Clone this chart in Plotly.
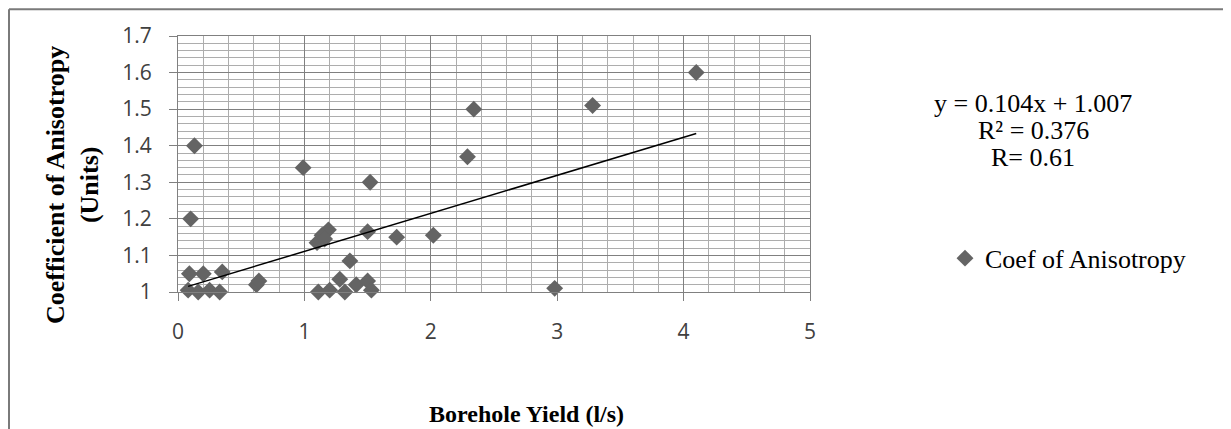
import plotly.graph_objects as go

# Data
borehole_yield = [0.13, 0.10, 4.10, 3.28, 2.34, 2.29, 0.99, 1.52, 1.19, 1.14, 1.10, 1.16,
                  1.50, 1.73, 2.02, 1.36, 2.98, 0.62, 0.64, 0.09, 0.20, 0.35, 0.08, 0.16,
                  0.25, 0.33, 1.11, 1.20, 1.28, 1.32, 1.41, 1.50, 1.53]
coef_anisotropy = [1.40, 1.20, 1.60, 1.51, 1.50, 1.37, 1.34, 1.30, 1.17, 1.155, 1.135, 1.145,
                   1.165, 1.15, 1.155, 1.085, 1.01, 1.02, 1.03, 1.05, 1.05, 1.055, 1.005, 1.0,
                   1.005, 1.0, 1.0, 1.005, 1.035, 1.0, 1.02, 1.03, 1.005]
slope = 0.104
intercept = 1.007
eq_lines = ["y = 0.104x + 1.007", "R\u00b2 = 0.376", "R= 0.61"]
series_name = "Coef of Anisotropy"
x_title = "Borehole Yield (l/s)"
y_title_lines = ["Coefficient of Anisotropy", "(Units)"]

# page body has an 8px default margin: work in reference pixels, shifted by OFF
OFF = 8
W, H = 1231 - OFF, 429 - OFF
L, R, T, B = 178 - OFF, 810 - OFF, 36.2 - OFF, 291.7 - OFF


def px(x):
    return (x - OFF - L) / (R - L)


def py(y):
    return (B - (y - OFF)) / (B - T)


serif = "Liberation Serif, Times New Roman, serif"
sans = "Open Sans, Lato, sans-serif"

fig = go.Figure()
fig.add_trace(go.Scatter(
    x=borehole_yield, y=coef_anisotropy, mode="markers", name=series_name,
    marker=dict(symbol="diamond", size=13, color="#646464"),
    cliponaxis=False,
))
xmin, xmax = min(borehole_yield), max(borehole_yield)
fig.add_trace(go.Scatter(
    x=[xmin, xmax], y=[slope * xmin + intercept, slope * xmax + intercept],
    mode="lines", line=dict(color="black", width=1.5), showlegend=False,
    hoverinfo="skip",
))

axis_common = dict(
    showgrid=True, gridcolor="#808080", gridwidth=1,
    showline=True, linecolor="#808080", linewidth=1, mirror=True,
    ticks="outside", ticklen=8, tickcolor="#808080",
    tickfont=dict(family=sans, size=21, color="#404040"),
    zeroline=False,
)
fig.update_xaxes(range=[0, 5], dtick=1, tick0=0,
                 minor=dict(dtick=0.2, showgrid=True, gridcolor="#adadad", gridwidth=1),
                 ticklabelstandoff=13, **axis_common)
fig.update_yaxes(range=[1, 1.7], dtick=0.1, tick0=1,
                 minor=dict(dtick=0.02, showgrid=True, gridcolor="#adadad", gridwidth=1),
                 ticklabelstandoff=13, **axis_common)

annotations = [
    dict(text="<b>" + x_title + "</b>", x=px(526), y=py(413), xref="paper", yref="paper",
         showarrow=False, font=dict(family=serif, size=24, color="black"),
         xanchor="center", yanchor="middle"),
]
for line, xx in zip(y_title_lines, [55, 89]):
    annotations.append(dict(text="<b>" + line + "</b>", x=px(xx), y=py(185),
                            xref="paper", yref="paper", textangle=-90, showarrow=False,
                            font=dict(family=serif, size=26, color="black"),
                            xanchor="center", yanchor="middle"))
for line, yy in zip(eq_lines, [104, 131, 157]):
    annotations.append(dict(text=line, x=px(1033), y=py(yy), xref="paper", yref="paper",
                            showarrow=False, font=dict(family=serif, size=26, color="black"),
                            xanchor="center", yanchor="middle"))

border = dict(color="#7a7a7a", width=2)
shapes = [
    dict(type="line", xref="paper", yref="paper", x0=px(9), x1=px(1227), y0=py(9.5), y1=py(9.5), line=border),
    dict(type="line", xref="paper", yref="paper", x0=px(9), x1=px(9), y0=py(9.5), y1=py(470), line=border),
    dict(type="line", xref="paper", yref="paper", x0=px(1227), x1=px(1227), y0=py(9.5), y1=py(470), line=border),
]

fig.update_layout(
    width=W, height=H,
    margin=dict(l=L, r=W - R, t=T, b=H - B, pad=0),
    paper_bgcolor="white", plot_bgcolor="white",
    showlegend=True,
    legend=dict(x=px(945), y=py(258), xanchor="left", yanchor="middle",
                font=dict(family=serif, size=26, color="black"),
                bgcolor="rgba(0,0,0,0)", borderwidth=0),
    annotations=annotations, shapes=shapes,
)

fig.write_html("out.html")
